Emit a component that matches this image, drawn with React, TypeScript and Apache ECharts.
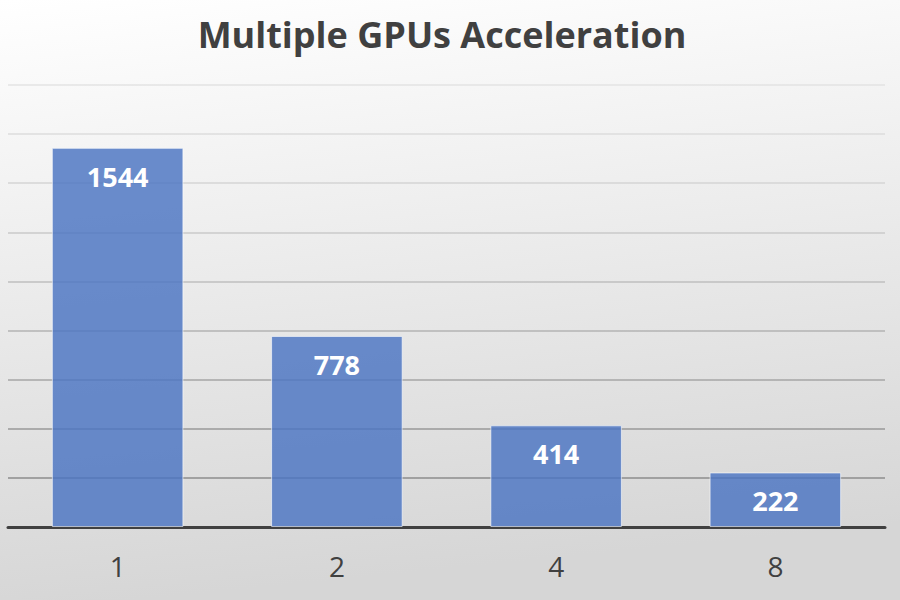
import React, { useEffect, useRef } from "react";
import * as echarts from "echarts";

const categories = ["1", "2", "4", "8"];
const values = [1544, 778, 414, 222];
const titleText = "Multiple GPUs Acceleration";

export default function App() {
  const ref = useRef<HTMLDivElement>(null);
  useEffect(() => {
    if (!ref.current) return;
    const chart = echarts.init(ref.current, null, { renderer: "svg" });
    chart.setOption({
      animation: false,
      backgroundColor: new echarts.graphic.LinearGradient(0, 0, 0.15, 1, [
        { offset: 0, color: "#ffffff" },
        { offset: 1, color: "#d6d6d6" },
      ]),
      title: {
        text: titleText,
        left: 437,
        textAlign: "center",
        top: 11,
        textStyle: {
          fontFamily: "Open Sans",
          fontWeight: "bold",
          fontSize: 36,
          color: "#404040",
        },
      },
      grid: { left: 8, right: 15, top: 85, bottom: 73, containLabel: false },
      xAxis: {
        type: "category",
        data: categories,
        axisTick: { show: false },
        axisLine: { lineStyle: { color: "#404040", width: 3 } },
        axisLabel: {
          fontFamily: "Open Sans",
          fontSize: 28,
          color: "#404040",
          margin: 25,
        },
      },
      yAxis: {
        type: "value",
        min: 0,
        max: 1800,
        interval: 200,
        axisLabel: { show: false },
        axisLine: { show: false },
        axisTick: { show: false },
        splitLine: {
          lineStyle: {
            width: 1.5,
            color: [
              "#404040",
              "#8c8c8c",
              "#999999",
              "#a6a6a6",
              "#b3b3b3",
              "#bfbfbf",
              "#cacaca",
              "#d4d4d4",
              "#dcdcdc",
              "#e3e3e3",
            ],
          },
        },
      },
      series: [
        {
          type: "bar",
          data: values,
          barWidth: "60%",
          itemStyle: {
            color: "rgba(74,116,194,0.82)",
            borderColor: "rgba(255,255,255,0.6)",
            borderWidth: 1,
          },
          label: {
            show: true,
            position: "insideTop",
            distance: 15,
            color: "#ffffff",
            fontFamily: "Open Sans",
            fontWeight: "bold",
            fontSize: 27,
          },
        },
      ],
    });
    return () => chart.dispose();
  }, []);
  return (
    <div
      ref={ref}
      style={{ position: "fixed", left: 0, top: 0, width: 900, height: 600 }}
    />
  );
}
